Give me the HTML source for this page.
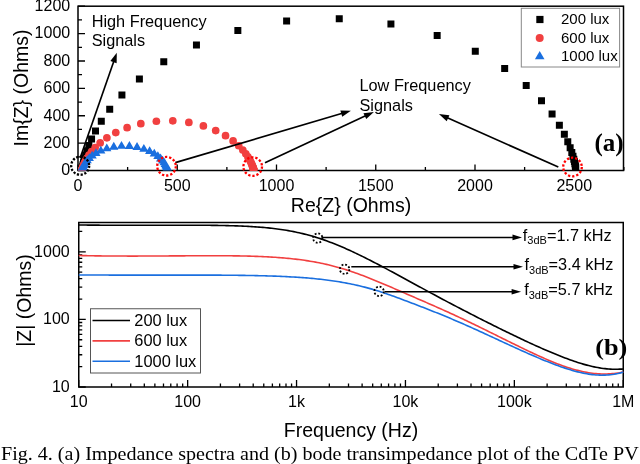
<!DOCTYPE html>
<html><head><meta charset="utf-8"><style>html,body{margin:0;padding:0;background:#fff;}svg{display:block;will-change:transform}</style></head>
<body><svg width="640" height="464" viewBox="0 0 640 464">
<rect width="640" height="464" fill="#fff"/>
<rect x="78.0" y="6.2" width="545.5" height="164.3" fill="none" stroke="#000" stroke-width="1.5"/>
<path d="M78.0 170.50h7 M78.0 156.81h4 M78.0 143.12h7 M78.0 129.43h4 M78.0 115.74h7 M78.0 102.05h4 M78.0 88.36h7 M78.0 74.67h4 M78.0 60.98h7 M78.0 47.29h4 M78.0 33.60h7 M78.0 19.91h4 M78.0 6.22h7 M78.00 170.5v-6 M127.62 170.5v-3.5 M177.25 170.5v-6 M226.88 170.5v-3.5 M276.50 170.5v-6 M326.12 170.5v-3.5 M375.75 170.5v-6 M425.38 170.5v-3.5 M475.00 170.5v-6 M524.62 170.5v-3.5 M574.25 170.5v-6 M623.88 170.5v-3.5" stroke="#000" stroke-width="1.3" fill="none"/>
<text x="70.2" y="175.30" text-anchor="end" font-size="16" font-family="Liberation Sans, sans-serif">0</text>
<text x="70.2" y="147.92" text-anchor="end" font-size="16" font-family="Liberation Sans, sans-serif">200</text>
<text x="70.2" y="120.54" text-anchor="end" font-size="16" font-family="Liberation Sans, sans-serif">400</text>
<text x="70.2" y="93.16" text-anchor="end" font-size="16" font-family="Liberation Sans, sans-serif">600</text>
<text x="70.2" y="65.78" text-anchor="end" font-size="16" font-family="Liberation Sans, sans-serif">800</text>
<text x="70.2" y="38.40" text-anchor="end" font-size="16" font-family="Liberation Sans, sans-serif">1000</text>
<text x="70.2" y="11.02" text-anchor="end" font-size="16" font-family="Liberation Sans, sans-serif">1200</text>
<text x="78.00" y="190.8" text-anchor="middle" font-size="16" font-family="Liberation Sans, sans-serif">0</text>
<text x="177.25" y="190.8" text-anchor="middle" font-size="16" font-family="Liberation Sans, sans-serif">500</text>
<text x="276.50" y="190.8" text-anchor="middle" font-size="16" font-family="Liberation Sans, sans-serif">1000</text>
<text x="375.75" y="190.8" text-anchor="middle" font-size="16" font-family="Liberation Sans, sans-serif">1500</text>
<text x="475.00" y="190.8" text-anchor="middle" font-size="16" font-family="Liberation Sans, sans-serif">2000</text>
<text x="574.25" y="190.8" text-anchor="middle" font-size="16" font-family="Liberation Sans, sans-serif">2500</text>
<text x="351" y="211.6" text-anchor="middle" font-size="19.5" font-family="Liberation Sans, sans-serif">Re{Z} (Ohms)</text>
<text transform="translate(28,88) rotate(-90)" text-anchor="middle" font-size="19.5" font-family="Liberation Sans, sans-serif">Im{Z} (Ohms)</text>
<clipPath id="ca"><rect x="78.0" y="6.2" width="545.5" height="164.3"/></clipPath>
<g clip-path="url(#ca)">
<path d="M78.61 166.11h7v7h-7zM78.65 165.86h7v7h-7zM78.70 165.56h7v7h-7zM78.77 165.17h7v7h-7zM78.86 164.67h7v7h-7zM78.98 164.05h7v7h-7zM79.14 163.25h7v7h-7zM79.34 162.24h7v7h-7zM79.62 160.96h7v7h-7zM79.98 159.33h7v7h-7zM80.48 157.28h7v7h-7zM81.16 154.68h7v7h-7zM82.11 151.40h7v7h-7zM83.45 147.26h7v7h-7zM85.34 142.07h7v7h-7zM88.07 135.58h7v7h-7zM92.03 127.52h7v7h-7zM97.79 117.63h7v7h-7zM106.21 105.69h7v7h-7zM118.42 91.60h7v7h-7zM135.89 75.58h7v7h-7zM160.27 58.37h7v7h-7zM192.95 41.43h7v7h-7zM234.35 26.96h7v7h-7zM283.12 17.52h7v7h-7zM335.75 15.14h7v7h-7zM387.42 20.38h7v7h-7zM433.67 32.04h7v7h-7zM471.79 47.75h7v7h-7zM501.17 65.02h7v7h-7zM522.71 81.91h7v7h-7zM537.98 97.24h7v7h-7zM548.58 110.51h7v7h-7zM555.87 121.65h7v7h-7zM560.85 130.81h7v7h-7zM564.28 138.23h7v7h-7zM566.65 144.19h7v7h-7zM568.31 148.96h7v7h-7zM569.48 152.74h7v7h-7zM570.31 155.75h7v7h-7zM570.92 158.12h7v7h-7zM571.36 160.00h7v7h-7zM571.69 161.48h7v7h-7zM571.93 162.65h7v7h-7zM572.11 163.58h7v7h-7zM572.25 164.30h7v7h-7z" fill="#000"/>
<g fill="#F14040"><circle cx="82.02" cy="169.80" r="3.85"/><circle cx="82.07" cy="169.62" r="3.85"/><circle cx="82.13" cy="169.40" r="3.85"/><circle cx="82.21" cy="169.12" r="3.85"/><circle cx="82.32" cy="168.78" r="3.85"/><circle cx="82.45" cy="168.34" r="3.85"/><circle cx="82.62" cy="167.80" r="3.85"/><circle cx="82.84" cy="167.13" r="3.85"/><circle cx="83.14" cy="166.29" r="3.85"/><circle cx="83.53" cy="165.25" r="3.85"/><circle cx="84.06" cy="163.96" r="3.85"/><circle cx="84.77" cy="162.36" r="3.85"/><circle cx="85.75" cy="160.40" r="3.85"/><circle cx="87.10" cy="157.99" r="3.85"/><circle cx="88.97" cy="155.09" r="3.85"/><circle cx="91.57" cy="151.61" r="3.85"/><circle cx="95.18" cy="147.54" r="3.85"/><circle cx="100.14" cy="142.90" r="3.85"/><circle cx="106.88" cy="137.82" r="3.85"/><circle cx="115.77" cy="132.59" r="3.85"/><circle cx="127.10" cy="127.67" r="3.85"/><circle cx="140.81" cy="123.67" r="3.85"/><circle cx="156.37" cy="121.23" r="3.85"/><circle cx="172.79" cy="120.81" r="3.85"/><circle cx="188.84" cy="122.47" r="3.85"/><circle cx="203.38" cy="125.92" r="3.85"/><circle cx="215.69" cy="130.55" r="3.85"/><circle cx="225.54" cy="135.72" r="3.85"/><circle cx="233.10" cy="140.90" r="3.85"/><circle cx="238.73" cy="145.74" r="3.85"/><circle cx="242.83" cy="150.05" r="3.85"/><circle cx="245.80" cy="153.76" r="3.85"/><circle cx="247.93" cy="156.89" r="3.85"/><circle cx="249.47" cy="159.49" r="3.85"/><circle cx="250.58" cy="161.62" r="3.85"/><circle cx="251.39" cy="163.36" r="3.85"/><circle cx="251.98" cy="164.77" r="3.85"/><circle cx="252.43" cy="165.90" r="3.85"/><circle cx="252.76" cy="166.82" r="3.85"/><circle cx="253.01" cy="167.55" r="3.85"/><circle cx="253.20" cy="168.14" r="3.85"/><circle cx="253.34" cy="168.61" r="3.85"/><circle cx="253.46" cy="168.99" r="3.85"/><circle cx="253.55" cy="169.30" r="3.85"/><circle cx="253.61" cy="169.54" r="3.85"/><circle cx="253.67" cy="169.73" r="3.85"/><circle cx="253.71" cy="169.89" r="3.85"/></g>
<path d="M81.29 165.98L85.89 173.78L76.69 173.78zM81.32 165.86L85.92 173.66L76.72 173.66zM81.36 165.71L85.96 173.51L76.76 173.51zM81.41 165.53L86.01 173.33L76.81 173.33zM81.48 165.30L86.08 173.10L76.88 173.10zM81.56 165.02L86.16 172.82L76.96 172.82zM81.67 164.68L86.27 172.48L77.07 172.48zM81.82 164.26L86.42 172.06L77.22 172.06zM82.00 163.74L86.60 171.54L77.40 171.54zM82.25 163.10L86.85 170.90L77.65 170.90zM82.59 162.33L87.19 170.13L77.99 170.13zM83.04 161.38L87.64 169.18L78.44 169.18zM83.65 160.24L88.25 168.04L79.05 168.04zM84.48 158.87L89.08 166.67L79.88 166.67zM85.62 157.25L90.22 165.05L81.02 165.05zM87.19 155.36L91.79 163.16L82.59 163.16zM89.32 153.19L93.92 160.99L84.72 160.99zM92.19 150.80L96.79 158.60L87.59 158.60zM95.97 148.27L100.57 156.07L91.37 156.07zM100.82 145.77L105.42 153.57L96.22 153.57zM106.80 143.55L111.40 151.35L102.20 151.35zM113.79 141.87L118.39 149.67L109.19 149.67zM121.50 141.00L126.10 148.80L116.90 148.80zM129.42 141.09L134.02 148.89L124.82 148.89zM137.03 142.12L141.63 149.92L132.43 149.92zM143.86 143.92L148.46 151.72L139.26 151.72zM149.63 146.22L154.23 154.02L145.03 154.02zM154.28 148.74L158.88 156.54L149.68 156.54zM157.88 151.25L162.48 159.05L153.28 159.05zM160.60 153.61L165.20 161.41L156.00 161.41zM162.62 155.72L167.22 163.52L158.02 163.52zM164.09 157.57L168.69 165.37L159.49 165.37zM165.17 159.14L169.77 166.94L160.57 166.94zM165.96 160.47L170.56 168.27L161.36 168.27zM166.54 161.57L171.14 169.37L161.94 169.37zM166.96 162.48L171.56 170.28L162.36 170.28zM167.28 163.23L171.88 171.03L162.68 171.03zM167.52 163.84L172.12 171.64L162.92 171.64zM167.69 164.34L172.29 172.14L163.09 172.14zM167.83 164.75L172.43 172.55L163.23 172.55zM167.93 165.08L172.53 172.88L163.33 172.88zM168.01 165.35L172.61 173.15L163.41 173.15zM168.08 165.57L172.68 173.37L163.48 173.37zM168.13 165.74L172.73 173.54L163.53 173.54zM168.16 165.89L172.76 173.69L163.56 173.69zM168.19 166.00L172.79 173.80L163.59 173.80zM168.22 166.10L172.82 173.90L163.62 173.90zM168.24 166.17L172.84 173.97L163.64 173.97zM168.25 166.24L172.85 174.04L163.65 174.04zM168.27 166.29L172.87 174.09L163.67 174.09zM168.28 166.33L172.88 174.13L163.68 174.13z" fill="#1A6FDF"/>
</g>
<rect x="521.3" y="8.3" width="98.3" height="58.7" fill="#fff" stroke="#888" stroke-width="1"/>
<rect x="536.3" y="15.9" width="7.2" height="7.2" fill="#000"/>
<circle cx="539.7" cy="37.9" r="4" fill="#F14040"/>
<path d="M539.7 51L544.5 59.2L534.9 59.2z" fill="#1A6FDF"/>
<text x="561" y="24.40" font-size="15" font-family="Liberation Sans, sans-serif">200 lux</text>
<text x="561" y="42.60" font-size="15" font-family="Liberation Sans, sans-serif">600 lux</text>
<text x="561" y="60.80" font-size="15" font-family="Liberation Sans, sans-serif">1000 lux</text>
<text x="91.7" y="26.6" font-size="16.3" font-family="Liberation Sans, sans-serif">High Frequency</text>
<text x="91.7" y="46.3" font-size="16.3" font-family="Liberation Sans, sans-serif">Signals</text>
<text x="359.5" y="90.5" font-size="16.3" font-family="Liberation Sans, sans-serif">Low Frequency</text>
<text x="359.5" y="110.7" font-size="16.3" font-family="Liberation Sans, sans-serif">Signals</text>
<path d="M80.30 157.50L114.17 60.25" stroke="#000" stroke-width="1.65" fill="none"/><path d="M116.80 52.70L116.63 63.23L110.39 61.06z" fill="#000"/>
<path d="M175.30 162.60L343.23 113.06" stroke="#000" stroke-width="1.65" fill="none"/><path d="M350.90 110.80L342.24 116.79L340.37 110.46z" fill="#000"/>
<path d="M265.00 162.70L366.65 115.28" stroke="#000" stroke-width="1.65" fill="none"/><path d="M373.90 111.90L366.23 119.12L363.44 113.14z" fill="#000"/>
<path d="M558.30 167.10L446.21 117.35" stroke="#000" stroke-width="1.65" fill="none"/><path d="M438.90 114.10L449.38 115.14L446.70 121.17z" fill="#000"/>
<circle cx="80.2" cy="165.75" r="9" fill="none" stroke="#000" stroke-width="2.3" stroke-dasharray="2.2 1.6"/>
<circle cx="166.5" cy="166.2" r="9.3" fill="none" stroke="#f00" stroke-width="2.3" stroke-dasharray="2.3 1.9"/>
<circle cx="252.7" cy="166.6" r="9.3" fill="none" stroke="#f00" stroke-width="2.3" stroke-dasharray="2.3 1.9"/>
<circle cx="572.5" cy="167" r="9.3" fill="none" stroke="#f00" stroke-width="2.3" stroke-dasharray="2.3 1.9"/>
<text x="594.5" y="151.2" font-size="25" font-weight="bold" font-family="Liberation Serif, serif">(a)</text>
<rect x="78.75" y="222.5" width="544.5" height="164.5" fill="none" stroke="#000" stroke-width="1.5"/>
<path d="M78.75 387.00h7 M78.75 366.65h3.5 M78.75 354.75h3.5 M78.75 346.30h3.5 M78.75 339.75h3.5 M78.75 334.40h3.5 M78.75 329.87h3.5 M78.75 325.95h3.5 M78.75 322.49h3.5 M78.75 319.40h7 M78.75 299.05h3.5 M78.75 287.15h3.5 M78.75 278.70h3.5 M78.75 272.15h3.5 M78.75 266.80h3.5 M78.75 262.27h3.5 M78.75 258.35h3.5 M78.75 254.89h3.5 M78.75 251.80h7 M78.75 231.45h3.5 M78.75 387v-7 M111.53 387v-3.5 M130.71 387v-3.5 M144.31 387v-3.5 M154.87 387v-3.5 M163.49 387v-3.5 M170.78 387v-3.5 M177.10 387v-3.5 M182.67 387v-3.5 M187.65 387v-7 M220.43 387v-3.5 M239.61 387v-3.5 M253.21 387v-3.5 M263.77 387v-3.5 M272.39 387v-3.5 M279.68 387v-3.5 M286.00 387v-3.5 M291.57 387v-3.5 M296.55 387v-7 M329.33 387v-3.5 M348.51 387v-3.5 M362.11 387v-3.5 M372.67 387v-3.5 M381.29 387v-3.5 M388.58 387v-3.5 M394.90 387v-3.5 M400.47 387v-3.5 M405.45 387v-7 M438.23 387v-3.5 M457.41 387v-3.5 M471.01 387v-3.5 M481.57 387v-3.5 M490.19 387v-3.5 M497.48 387v-3.5 M503.80 387v-3.5 M509.37 387v-3.5 M514.35 387v-7 M547.13 387v-3.5 M566.31 387v-3.5 M579.91 387v-3.5 M590.47 387v-3.5 M599.09 387v-3.5 M606.38 387v-3.5 M612.70 387v-3.5 M618.27 387v-3.5 M623.25 387v-7" stroke="#000" stroke-width="1.3" fill="none"/>
<text x="69.7" y="391.80" text-anchor="end" font-size="16" font-family="Liberation Sans, sans-serif">10</text>
<text x="69.7" y="324.20" text-anchor="end" font-size="16" font-family="Liberation Sans, sans-serif">100</text>
<text x="69.7" y="256.60" text-anchor="end" font-size="16" font-family="Liberation Sans, sans-serif">1000</text>
<text x="78.75" y="406.6" text-anchor="middle" font-size="16" font-family="Liberation Sans, sans-serif">10</text>
<text x="187.65" y="406.6" text-anchor="middle" font-size="16" font-family="Liberation Sans, sans-serif">100</text>
<text x="296.55" y="406.6" text-anchor="middle" font-size="16" font-family="Liberation Sans, sans-serif">1k</text>
<text x="405.45" y="406.6" text-anchor="middle" font-size="16" font-family="Liberation Sans, sans-serif">10k</text>
<text x="514.35" y="406.6" text-anchor="middle" font-size="16" font-family="Liberation Sans, sans-serif">100k</text>
<text x="623.25" y="406.6" text-anchor="middle" font-size="16" font-family="Liberation Sans, sans-serif">1M</text>
<text x="351" y="437.3" text-anchor="middle" font-size="19.5" font-family="Liberation Sans, sans-serif">Frequency (Hz)</text>
<text transform="translate(30.5,300.5) rotate(-90)" text-anchor="middle" font-size="19.5" font-family="Liberation Sans, sans-serif">|Z| (Ohms)</text>
<path d="M78.75 224.98 L80.57 224.99 L82.39 225.01 L84.21 225.04 L86.03 225.06 L87.86 225.08 L89.68 225.09 L91.50 225.11 L93.32 225.13 L95.14 225.14 L96.96 225.15 L98.78 225.17 L100.60 225.18 L102.42 225.19 L104.24 225.20 L106.07 225.21 L107.89 225.22 L109.71 225.22 L111.53 225.23 L113.35 225.24 L115.17 225.24 L116.99 225.25 L118.81 225.25 L120.63 225.25 L122.46 225.26 L124.28 225.26 L126.10 225.26 L127.92 225.26 L129.74 225.26 L131.56 225.26 L133.38 225.26 L135.20 225.26 L137.02 225.26 L138.85 225.25 L140.67 225.25 L142.49 225.25 L144.31 225.24 L146.13 225.24 L147.95 225.24 L149.77 225.23 L151.59 225.23 L153.41 225.23 L155.23 225.22 L157.06 225.22 L158.88 225.21 L160.70 225.21 L162.52 225.21 L164.34 225.20 L166.16 225.20 L167.98 225.20 L169.80 225.19 L171.62 225.19 L173.45 225.19 L175.27 225.18 L177.09 225.18 L178.91 225.18 L180.73 225.18 L182.55 225.18 L184.37 225.18 L186.19 225.18 L188.01 225.19 L189.84 225.19 L191.66 225.19 L193.48 225.20 L195.30 225.21 L197.12 225.21 L198.94 225.22 L200.76 225.23 L202.58 225.25 L204.40 225.26 L206.22 225.27 L208.05 225.29 L209.87 225.31 L211.69 225.33 L213.51 225.35 L215.33 225.38 L217.15 225.41 L218.97 225.44 L220.79 225.47 L222.61 225.50 L224.44 225.54 L226.26 225.59 L228.08 225.63 L229.90 225.68 L231.72 225.73 L233.54 225.79 L235.36 225.85 L237.18 225.91 L239.00 225.98 L240.83 226.05 L242.65 226.13 L244.47 226.22 L246.29 226.31 L248.11 226.40 L249.93 226.50 L251.75 226.61 L253.57 226.73 L255.39 226.85 L257.21 226.98 L259.04 227.11 L260.86 227.26 L262.68 227.41 L264.50 227.57 L266.32 227.74 L268.14 227.92 L269.96 228.11 L271.78 228.31 L273.60 228.52 L275.43 228.75 L277.25 228.98 L279.07 229.22 L280.89 229.48 L282.71 229.75 L284.53 230.03 L286.35 230.33 L288.17 230.64 L289.99 230.96 L291.82 231.30 L293.64 231.65 L295.46 232.02 L297.28 232.41 L299.10 232.80 L300.92 233.22 L302.74 233.65 L304.56 234.10 L306.38 234.56 L308.20 235.04 L310.03 235.54 L311.85 236.06 L313.67 236.59 L315.49 237.14 L317.31 237.70 L319.13 238.28 L320.95 238.88 L322.77 239.50 L324.59 240.13 L326.42 240.78 L328.24 241.45 L330.06 242.13 L331.88 242.82 L333.70 243.53 L335.52 244.26 L337.34 245.00 L339.16 245.75 L340.98 246.52 L342.81 247.30 L344.63 248.10 L346.45 248.90 L348.27 249.72 L350.09 250.55 L351.91 251.39 L353.73 252.24 L355.55 253.10 L357.37 253.97 L359.19 254.85 L361.02 255.74 L362.84 256.64 L364.66 257.54 L366.48 258.46 L368.30 259.38 L370.12 260.30 L371.94 261.24 L373.76 262.18 L375.58 263.12 L377.41 264.07 L379.23 265.02 L381.05 265.98 L382.87 266.95 L384.69 267.91 L386.51 268.89 L388.33 269.86 L390.15 270.84 L391.97 271.82 L393.80 272.80 L395.62 273.78 L397.44 274.77 L399.26 275.76 L401.08 276.75 L402.90 277.74 L404.72 278.73 L406.54 279.72 L408.36 280.72 L410.18 281.71 L412.01 282.70 L413.83 283.70 L415.65 284.69 L417.47 285.68 L419.29 286.68 L421.11 287.67 L422.93 288.66 L424.75 289.65 L426.57 290.63 L428.40 291.62 L430.22 292.61 L432.04 293.59 L433.86 294.57 L435.68 295.55 L437.50 296.53 L439.32 297.50 L441.14 298.47 L442.96 299.44 L444.79 300.41 L446.61 301.37 L448.43 302.34 L450.25 303.29 L452.07 304.25 L453.89 305.21 L455.71 306.16 L457.53 307.11 L459.35 308.06 L461.17 309.00 L463.00 309.95 L464.82 310.89 L466.64 311.83 L468.46 312.76 L470.28 313.70 L472.10 314.63 L473.92 315.56 L475.74 316.49 L477.56 317.42 L479.39 318.34 L481.21 319.26 L483.03 320.18 L484.85 321.10 L486.67 322.02 L488.49 322.93 L490.31 323.84 L492.13 324.75 L493.95 325.66 L495.78 326.56 L497.60 327.47 L499.42 328.37 L501.24 329.26 L503.06 330.16 L504.88 331.05 L506.70 331.94 L508.52 332.83 L510.34 333.71 L512.16 334.59 L513.99 335.47 L515.81 336.34 L517.63 337.21 L519.45 338.08 L521.27 338.94 L523.09 339.80 L524.91 340.66 L526.73 341.51 L528.55 342.36 L530.38 343.20 L532.20 344.03 L534.02 344.86 L535.84 345.69 L537.66 346.51 L539.48 347.32 L541.30 348.13 L543.12 348.93 L544.94 349.73 L546.77 350.51 L548.59 351.29 L550.41 352.07 L552.23 352.83 L554.05 353.59 L555.87 354.33 L557.69 355.07 L559.51 355.80 L561.33 356.52 L563.15 357.23 L564.98 357.93 L566.80 358.62 L568.62 359.29 L570.44 359.95 L572.26 360.60 L574.08 361.23 L575.90 361.84 L577.72 362.43 L579.54 363.01 L581.37 363.57 L583.19 364.11 L585.01 364.62 L586.83 365.12 L588.65 365.59 L590.47 366.03 L592.29 366.46 L594.11 366.85 L595.93 367.22 L597.76 367.57 L599.58 367.88 L601.40 368.17 L603.22 368.42 L605.04 368.64 L606.86 368.83 L608.68 368.99 L610.50 369.11 L612.32 369.20 L614.14 369.25 L615.97 369.26 L617.79 369.24 L619.61 369.17 L621.43 369.13 L623.25 369.07" fill="none" stroke="#000" stroke-width="1.6"/>
<path d="M78.75 255.54 L80.57 255.56 L82.39 255.60 L84.21 255.64 L86.03 255.67 L87.86 255.71 L89.68 255.74 L91.50 255.77 L93.32 255.80 L95.14 255.83 L96.96 255.86 L98.78 255.88 L100.60 255.90 L102.42 255.93 L104.24 255.95 L106.07 255.96 L107.89 255.98 L109.71 256.00 L111.53 256.01 L113.35 256.02 L115.17 256.03 L116.99 256.04 L118.81 256.05 L120.63 256.06 L122.46 256.07 L124.28 256.07 L126.10 256.07 L127.92 256.08 L129.74 256.08 L131.56 256.08 L133.38 256.08 L135.20 256.08 L137.02 256.08 L138.85 256.07 L140.67 256.07 L142.49 256.06 L144.31 256.06 L146.13 256.05 L147.95 256.05 L149.77 256.04 L151.59 256.03 L153.41 256.02 L155.23 256.01 L157.06 256.00 L158.88 255.99 L160.70 255.98 L162.52 255.97 L164.34 255.96 L166.16 255.95 L167.98 255.94 L169.80 255.92 L171.62 255.91 L173.45 255.90 L175.27 255.89 L177.09 255.88 L178.91 255.86 L180.73 255.85 L182.55 255.84 L184.37 255.83 L186.19 255.82 L188.01 255.81 L189.84 255.80 L191.66 255.79 L193.48 255.78 L195.30 255.77 L197.12 255.76 L198.94 255.75 L200.76 255.74 L202.58 255.74 L204.40 255.73 L206.22 255.73 L208.05 255.73 L209.87 255.72 L211.69 255.72 L213.51 255.72 L215.33 255.73 L217.15 255.73 L218.97 255.74 L220.79 255.74 L222.61 255.75 L224.44 255.76 L226.26 255.77 L228.08 255.79 L229.90 255.80 L231.72 255.82 L233.54 255.84 L235.36 255.87 L237.18 255.89 L239.00 255.92 L240.83 255.96 L242.65 255.99 L244.47 256.03 L246.29 256.07 L248.11 256.11 L249.93 256.16 L251.75 256.22 L253.57 256.27 L255.39 256.33 L257.21 256.40 L259.04 256.47 L260.86 256.54 L262.68 256.62 L264.50 256.70 L266.32 256.79 L268.14 256.89 L269.96 256.99 L271.78 257.09 L273.60 257.21 L275.43 257.32 L277.25 257.45 L279.07 257.58 L280.89 257.72 L282.71 257.87 L284.53 258.03 L286.35 258.19 L288.17 258.36 L289.99 258.54 L291.82 258.73 L293.64 258.93 L295.46 259.13 L297.28 259.35 L299.10 259.58 L300.92 259.82 L302.74 260.07 L304.56 260.32 L306.38 260.60 L308.20 260.88 L310.03 261.17 L311.85 261.48 L313.67 261.80 L315.49 262.13 L317.31 262.47 L319.13 262.83 L320.95 263.20 L322.77 263.58 L324.59 263.98 L326.42 264.39 L328.24 264.82 L330.06 265.26 L331.88 265.71 L333.70 266.18 L335.52 266.67 L337.34 267.16 L339.16 267.68 L340.98 268.21 L342.81 268.75 L344.63 269.31 L346.45 269.88 L348.27 270.46 L350.09 271.06 L351.91 271.67 L353.73 272.30 L355.55 272.94 L357.37 273.59 L359.19 274.25 L361.02 274.92 L362.84 275.60 L364.66 276.30 L366.48 277.00 L368.30 277.71 L370.12 278.43 L371.94 279.16 L373.76 279.90 L375.58 280.64 L377.41 281.39 L379.23 282.15 L381.05 282.91 L382.87 283.68 L384.69 284.46 L386.51 285.23 L388.33 286.01 L390.15 286.80 L391.97 287.58 L393.80 288.37 L395.62 289.16 L397.44 289.95 L399.26 290.74 L401.08 291.53 L402.90 292.33 L404.72 293.12 L406.54 293.91 L408.36 294.70 L410.18 295.49 L412.01 296.28 L413.83 297.07 L415.65 297.86 L417.47 298.66 L419.29 299.45 L421.11 300.24 L422.93 301.04 L424.75 301.83 L426.57 302.63 L428.40 303.43 L430.22 304.23 L432.04 305.03 L433.86 305.83 L435.68 306.64 L437.50 307.45 L439.32 308.26 L441.14 309.07 L442.96 309.89 L444.79 310.70 L446.61 311.53 L448.43 312.35 L450.25 313.18 L452.07 314.01 L453.89 314.84 L455.71 315.68 L457.53 316.53 L459.35 317.38 L461.17 318.23 L463.00 319.09 L464.82 319.95 L466.64 320.81 L468.46 321.68 L470.28 322.56 L472.10 323.43 L473.92 324.31 L475.74 325.20 L477.56 326.08 L479.39 326.97 L481.21 327.86 L483.03 328.76 L484.85 329.65 L486.67 330.55 L488.49 331.45 L490.31 332.35 L492.13 333.25 L493.95 334.15 L495.78 335.05 L497.60 335.96 L499.42 336.86 L501.24 337.76 L503.06 338.67 L504.88 339.57 L506.70 340.47 L508.52 341.37 L510.34 342.27 L512.16 343.16 L513.99 344.06 L515.81 344.95 L517.63 345.84 L519.45 346.73 L521.27 347.62 L523.09 348.50 L524.91 349.38 L526.73 350.25 L528.55 351.12 L530.38 351.98 L532.20 352.84 L534.02 353.69 L535.84 354.53 L537.66 355.37 L539.48 356.20 L541.30 357.02 L543.12 357.83 L544.94 358.63 L546.77 359.42 L548.59 360.20 L550.41 360.96 L552.23 361.72 L554.05 362.46 L555.87 363.18 L557.69 363.89 L559.51 364.59 L561.33 365.26 L563.15 365.92 L564.98 366.56 L566.80 367.18 L568.62 367.77 L570.44 368.35 L572.26 368.90 L574.08 369.42 L575.90 369.92 L577.72 370.39 L579.54 370.84 L581.37 371.27 L583.19 371.66 L585.01 372.03 L586.83 372.37 L588.65 372.68 L590.47 372.96 L592.29 373.20 L594.11 373.42 L595.93 373.60 L597.76 373.75 L599.58 373.86 L601.40 373.94 L603.22 373.98 L605.04 373.99 L606.86 373.96 L608.68 373.89 L610.50 373.78 L612.32 373.64 L614.14 373.47 L615.97 373.26 L617.79 373.02 L619.61 372.75 L621.43 372.33 L623.25 371.84" fill="none" stroke="#F14040" stroke-width="1.6"/>
<path d="M78.75 274.95 L80.57 274.95 L82.39 274.96 L84.21 274.97 L86.03 274.98 L87.86 274.99 L89.68 275.00 L91.50 275.01 L93.32 275.02 L95.14 275.03 L96.96 275.04 L98.78 275.04 L100.60 275.05 L102.42 275.05 L104.24 275.06 L106.07 275.07 L107.89 275.07 L109.71 275.08 L111.53 275.08 L113.35 275.08 L115.17 275.09 L116.99 275.09 L118.81 275.09 L120.63 275.09 L122.46 275.10 L124.28 275.10 L126.10 275.10 L127.92 275.10 L129.74 275.10 L131.56 275.10 L133.38 275.10 L135.20 275.10 L137.02 275.10 L138.85 275.10 L140.67 275.10 L142.49 275.10 L144.31 275.10 L146.13 275.10 L147.95 275.10 L149.77 275.10 L151.59 275.10 L153.41 275.09 L155.23 275.09 L157.06 275.09 L158.88 275.09 L160.70 275.09 L162.52 275.09 L164.34 275.09 L166.16 275.08 L167.98 275.08 L169.80 275.08 L171.62 275.08 L173.45 275.08 L175.27 275.08 L177.09 275.08 L178.91 275.08 L180.73 275.08 L182.55 275.08 L184.37 275.08 L186.19 275.08 L188.01 275.08 L189.84 275.08 L191.66 275.08 L193.48 275.08 L195.30 275.08 L197.12 275.09 L198.94 275.09 L200.76 275.09 L202.58 275.10 L204.40 275.10 L206.22 275.10 L208.05 275.11 L209.87 275.12 L211.69 275.12 L213.51 275.13 L215.33 275.14 L217.15 275.15 L218.97 275.16 L220.79 275.17 L222.61 275.18 L224.44 275.19 L226.26 275.21 L228.08 275.22 L229.90 275.24 L231.72 275.25 L233.54 275.27 L235.36 275.29 L237.18 275.31 L239.00 275.33 L240.83 275.36 L242.65 275.38 L244.47 275.41 L246.29 275.44 L248.11 275.47 L249.93 275.50 L251.75 275.53 L253.57 275.57 L255.39 275.60 L257.21 275.64 L259.04 275.68 L260.86 275.73 L262.68 275.77 L264.50 275.82 L266.32 275.87 L268.14 275.93 L269.96 275.98 L271.78 276.04 L273.60 276.11 L275.43 276.17 L277.25 276.24 L279.07 276.31 L280.89 276.39 L282.71 276.47 L284.53 276.55 L286.35 276.64 L288.17 276.73 L289.99 276.83 L291.82 276.93 L293.64 277.04 L295.46 277.15 L297.28 277.26 L299.10 277.38 L300.92 277.51 L302.74 277.64 L304.56 277.78 L306.38 277.92 L308.20 278.07 L310.03 278.23 L311.85 278.39 L313.67 278.56 L315.49 278.74 L317.31 278.93 L319.13 279.12 L320.95 279.32 L322.77 279.53 L324.59 279.75 L326.42 279.97 L328.24 280.21 L330.06 280.45 L331.88 280.71 L333.70 280.97 L335.52 281.24 L337.34 281.52 L339.16 281.82 L340.98 282.12 L342.81 282.44 L344.63 282.76 L346.45 283.10 L348.27 283.45 L350.09 283.81 L351.91 284.18 L353.73 284.56 L355.55 284.96 L357.37 285.37 L359.19 285.79 L361.02 286.23 L362.84 286.68 L364.66 287.14 L366.48 287.62 L368.30 288.11 L370.12 288.61 L371.94 289.13 L373.76 289.66 L375.58 290.21 L377.41 290.77 L379.23 291.34 L381.05 291.93 L382.87 292.53 L384.69 293.14 L386.51 293.77 L388.33 294.40 L390.15 295.05 L391.97 295.70 L393.80 296.36 L395.62 297.02 L397.44 297.69 L399.26 298.37 L401.08 299.04 L402.90 299.72 L404.72 300.40 L406.54 301.08 L408.36 301.77 L410.18 302.46 L412.01 303.15 L413.83 303.84 L415.65 304.53 L417.47 305.23 L419.29 305.93 L421.11 306.64 L422.93 307.34 L424.75 308.05 L426.57 308.77 L428.40 309.48 L430.22 310.20 L432.04 310.92 L433.86 311.65 L435.68 312.38 L437.50 313.11 L439.32 313.85 L441.14 314.59 L442.96 315.34 L444.79 316.08 L446.61 316.84 L448.43 317.59 L450.25 318.36 L452.07 319.12 L453.89 319.89 L455.71 320.67 L457.53 321.45 L459.35 322.24 L461.17 323.03 L463.00 323.83 L464.82 324.63 L466.64 325.43 L468.46 326.24 L470.28 327.06 L472.10 327.88 L473.92 328.70 L475.74 329.52 L477.56 330.35 L479.39 331.18 L481.21 332.02 L483.03 332.85 L484.85 333.69 L486.67 334.53 L488.49 335.37 L490.31 336.21 L492.13 337.05 L493.95 337.90 L495.78 338.74 L497.60 339.58 L499.42 340.43 L501.24 341.27 L503.06 342.11 L504.88 342.95 L506.70 343.79 L508.52 344.63 L510.34 345.47 L512.16 346.30 L513.99 347.14 L515.81 347.97 L517.63 348.79 L519.45 349.62 L521.27 350.44 L523.09 351.25 L524.91 352.07 L526.73 352.88 L528.55 353.68 L530.38 354.48 L532.20 355.27 L534.02 356.06 L535.84 356.84 L537.66 357.62 L539.48 358.38 L541.30 359.15 L543.12 359.90 L544.94 360.64 L546.77 361.38 L548.59 362.11 L550.41 362.83 L552.23 363.53 L554.05 364.23 L555.87 364.91 L557.69 365.58 L559.51 366.24 L561.33 366.89 L563.15 367.52 L564.98 368.13 L566.80 368.73 L568.62 369.30 L570.44 369.86 L572.26 370.40 L574.08 370.91 L575.90 371.40 L577.72 371.87 L579.54 372.32 L581.37 372.73 L583.19 373.12 L585.01 373.48 L586.83 373.81 L588.65 374.11 L590.47 374.38 L592.29 374.61 L594.11 374.80 L595.93 374.95 L597.76 375.07 L599.58 375.14 L601.40 375.18 L603.22 375.16 L605.04 375.11 L606.86 375.01 L608.68 374.87 L610.50 374.68 L612.32 374.45 L614.14 374.18 L615.97 373.86 L617.79 373.51 L619.61 373.11 L621.43 372.61 L623.25 372.04" fill="none" stroke="#1A6FDF" stroke-width="1.6"/>
<rect x="90.5" y="308.75" width="110" height="64.25" fill="#fff" stroke="#555" stroke-width="1"/>
<path d="M92.5 320.50H130" stroke="#000" stroke-width="1.6"/>
<text x="134.3" y="325.90" font-size="16.4" font-family="Liberation Sans, sans-serif">200 lux</text>
<path d="M92.5 340.90H130" stroke="#F14040" stroke-width="1.6"/>
<text x="134.3" y="346.30" font-size="16.4" font-family="Liberation Sans, sans-serif">600 lux</text>
<path d="M92.5 361.30H130" stroke="#1A6FDF" stroke-width="1.6"/>
<text x="134.3" y="366.70" font-size="16.4" font-family="Liberation Sans, sans-serif">1000 lux</text>
<circle cx="317.75" cy="238.1" r="4.7" fill="none" stroke="#000" stroke-width="1.8" stroke-dasharray="1.85 1.84"/>
<path d="M321.40 237.40L514.50 237.40" stroke="#000" stroke-width="1.5" fill="none"/><path d="M522.00 237.40L512.50 240.20L512.50 234.60z" fill="#000"/>
<circle cx="344.6" cy="269.2" r="4.7" fill="none" stroke="#000" stroke-width="1.8" stroke-dasharray="1.85 1.84"/>
<path d="M351.30 266.70L515.50 266.70" stroke="#000" stroke-width="1.5" fill="none"/><path d="M523.00 266.70L513.50 269.50L513.50 263.90z" fill="#000"/>
<circle cx="379.1" cy="291.4" r="4.7" fill="none" stroke="#000" stroke-width="1.8" stroke-dasharray="1.85 1.84"/>
<path d="M384.60 291.70L513.60 291.70" stroke="#000" stroke-width="1.5" fill="none"/><path d="M521.10 291.70L511.60 294.50L511.60 288.90z" fill="#000"/>
<text x="522.8" y="240.8" font-size="16.3" font-family="Liberation Sans, sans-serif">f<tspan font-size="11" dy="3.4">3dB</tspan><tspan dy="-3.4">=1.7 kHz</tspan></text>
<text x="524.5" y="270.45" font-size="16.3" font-family="Liberation Sans, sans-serif">f<tspan font-size="11" dy="3.4">3dB</tspan><tspan dy="-3.4">=3.4 kHz</tspan></text>
<text x="524.2" y="295.2" font-size="16.3" font-family="Liberation Sans, sans-serif">f<tspan font-size="11" dy="3.4">3dB</tspan><tspan dy="-3.4">=5.7 kHz</tspan></text>
<text transform="translate(595.2,354.8) scale(1.05,0.96)" font-size="25" font-weight="bold" font-family="Liberation Serif, serif">(b)</text>
<text transform="translate(1,460) scale(1.057,1)" font-size="19" font-family="Liberation Serif, serif">Fig. 4. (a) Impedance spectra and (b) bode transimpedance plot of the CdTe PV</text>
</svg></body></html>
